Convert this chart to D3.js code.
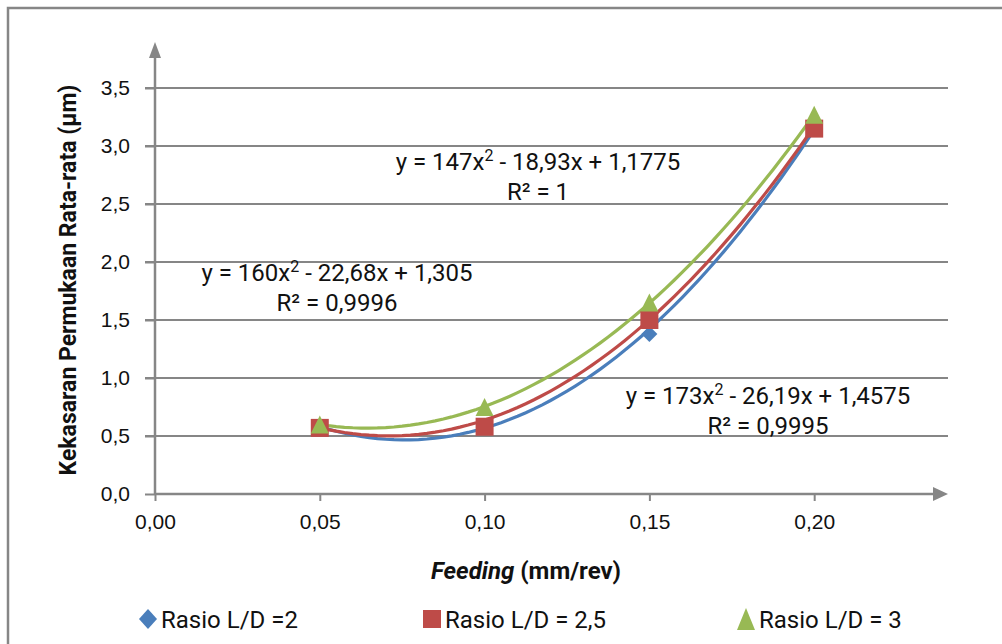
<!DOCTYPE html>
<meta charset="utf-8">
<style>
body { margin: 0; background: #fff; }
svg { font-family: Roboto, "Open Sans", sans-serif; }
</style>
<svg width="1002" height="644"></svg>
<script src="https://d3js.org/d3.v7.min.js"></script>
<script>
// feeding values (mm/rev)
var feeding = [0.05, 0.10, 0.15, 0.20];
// average surface roughness per L/D ratio
var ld2 = [0.58, 0.58, 1.38, 3.15];
var ld25 = [0.57, 0.58, 1.50, 3.15];
var ld3 = [0.60, 0.75, 1.65, 3.27];
// trendline coefficients a x^2 + b x + c (as printed on chart)
var fit2 = [173, -26.19, 1.4575];
var fit25 = [160, -22.68, 1.305];
var fit3 = [147, -18.93, 1.1775];
var yTicks = [0, 0.5, 1, 1.5, 2, 2.5, 3, 3.5];
var xTicks = [0, 0.05, 0.10, 0.15, 0.20];
var seriesNames = ["Rasio L/D =2", "Rasio L/D = 2,5", "Rasio L/D = 3"];

var svg = d3.select("svg");
var grey = "#868686";

var x = d3.scaleLinear().domain([0, 0.2406]).range([155, 948]);
var y = d3.scaleLinear().domain([0, 3.5]).range([494, 88]);
var comma = function(f) { return function(d) { return d3.format(f)(d).replace(".", ","); }; };

// frame
svg.append("path").attr("d", "M8,644V8H1002").attr("fill", "none")
    .attr("stroke", grey).attr("stroke-width", 2.5);

// grid lines + y ticks
svg.append("g").selectAll("line").data(yTicks.slice(1)).enter().append("line")
    .attr("x1", 145).attr("x2", 948)
    .attr("y1", function(d) { return y(d); }).attr("y2", function(d) { return y(d); })
    .attr("stroke", grey).attr("stroke-width", 2);

var yAxis = svg.append("g").attr("transform", "translate(155,0)")
    .call(d3.axisLeft(y).tickValues(yTicks).tickSize(10).tickFormat(comma(".1f")));
var xAxis = svg.append("g").attr("transform", "translate(0,494)")
    .call(d3.axisBottom(x).tickValues(xTicks).tickSize(7).tickFormat(comma(".2f")));
[yAxis, xAxis].forEach(function(a) {
  a.select(".domain").remove();
  a.selectAll("line").attr("stroke", grey).attr("stroke-width", 2);
  a.selectAll("text").attr("font-size", 21).attr("fill", "#111");
});
yAxis.selectAll("text").attr("dx", -12);
xAxis.selectAll("text").attr("dy", "1.2em");

// axis lines with arrows
svg.append("line").attr("x1", 155).attr("x2", 155).attr("y1", 494).attr("y2", 56)
    .attr("stroke", grey).attr("stroke-width", 2.5);
svg.append("path").attr("d", "M155,42L149,58H161Z").attr("fill", grey);
svg.append("line").attr("x1", 155).attr("x2", 934).attr("y1", 494).attr("y2", 494)
    .attr("stroke", grey).attr("stroke-width", 2.5);
svg.append("path").attr("d", "M948,494L933,487V501Z").attr("fill", grey);

// trendlines
var colors = ["#4A7EBB", "#BE4B48", "#98B954"];
var fits = [fit2, fit25, fit3];
var line = d3.line()
    .x(function(d) { return x(d[0]); }).y(function(d) { return y(d[1]); });
fits.forEach(function(f, i) {
  var pts = d3.range(0, 61).map(function(k) {
    var xv = 0.05 + k * 0.0025;
    return [xv, f[0] * xv * xv + f[1] * xv + f[2]];
  });
  svg.append("path").datum(pts).attr("d", line).attr("fill", "none")
      .attr("stroke", colors[i]).attr("stroke-width", 3.2);
});

// marker shapes (w = half width, h = half height)
function shape(i, w, h) {
  if (i == 0) return "M0," + (-h) + "L" + w + ",0L0," + h + "L" + (-w) + ",0Z";
  if (i == 1) return "M" + (-w) + "," + (-h) + "H" + w + "V" + h + "H" + (-w) + "Z";
  return "M0," + (-h) + "L" + w + "," + h + "H" + (-w) + "Z";
}
var markW = [8, 9, 9], markH = [8, 9, 9];
[ld2, ld25, ld3].forEach(function(s, i) {
  svg.append("g").selectAll("path").data(s).enter().append("path")
      .attr("d", shape(i, markW[i], markH[i]))
      .attr("transform", function(d, j) { return "translate(" + x(feeding[j]) + "," + y(d) + ")"; })
      .attr("fill", colors[i]);
});

// equation labels
var eqs = [
  {t1: "173", t2: " - 26,19x + 1,4575", r: "R² = 0,9995", cx: 768, by: 404},
  {t1: "160", t2: " - 22,68x + 1,305", r: "R² = 0,9996", cx: 337, by: 281},
  {t1: "147", t2: " - 18,93x + 1,1775", r: "R² = 1", cx: 538, by: 170}
];
eqs.forEach(function(e) {
  var t = svg.append("text").attr("x", e.cx).attr("y", e.by).attr("text-anchor", "middle")
      .attr("font-size", 24).attr("fill", "#111");
  t.append("tspan").text("y = " + e.t1 + "x");
  t.append("tspan").attr("dy", -9).attr("font-size", 16).text("2");
  t.append("tspan").attr("dy", 9).text(e.t2);
  svg.append("text").attr("x", e.cx).attr("y", e.by + 30).attr("text-anchor", "middle")
      .attr("font-size", 24).attr("fill", "#111").text(e.r);
});

// axis titles
svg.append("text").attr("transform", "translate(76,280)rotate(-90)")
    .attr("text-anchor", "middle").attr("font-size", 23).attr("font-weight", "bold")
    .attr("fill", "#111").text("Kekasaran Permukaan Rata-rata (μm)");
var xt = svg.append("text").attr("x", 526).attr("y", 579).attr("text-anchor", "middle")
    .attr("font-size", 24).attr("font-weight", "bold").attr("fill", "#111");
xt.append("tspan").attr("font-style", "italic").text("Feeding");
xt.append("tspan").text(" (mm/rev)");

// legend
var legX = [148, 432, 746];
var legW = [9, 9, 9], legH = [10, 9, 11];
seriesNames.forEach(function(n, i) {
  svg.append("path").attr("d", shape(i, legW[i], legH[i]))
      .attr("transform", "translate(" + legX[i] + ",619)").attr("fill", colors[i]);
  svg.append("text").attr("x", legX[i] + 13).attr("y", 628).attr("font-size", 24)
      .attr("fill", "#111").text(n);
});
</script>
